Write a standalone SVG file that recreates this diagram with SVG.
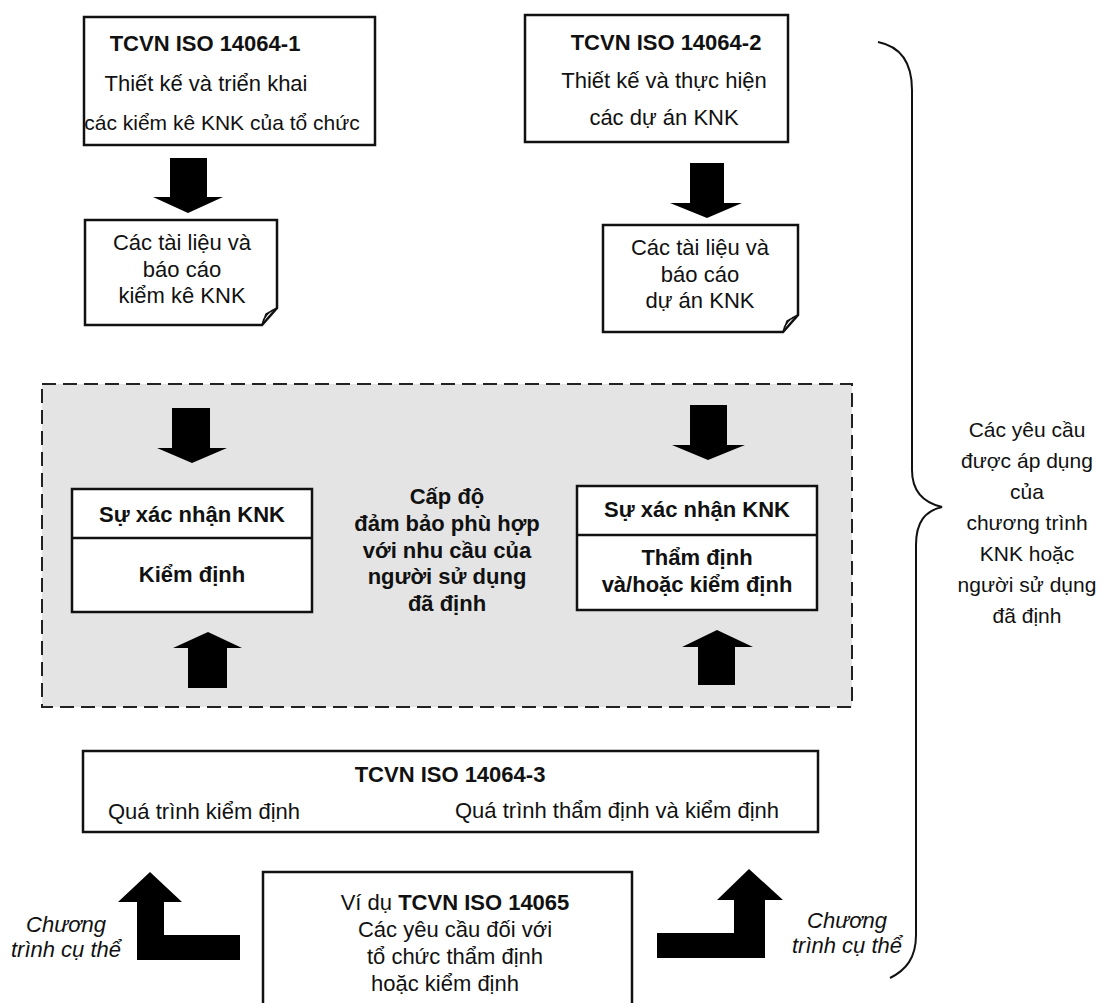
<svg xmlns="http://www.w3.org/2000/svg" width="1108" height="1003" viewBox="0 0 1108 1003">
<style>
text{font-family:"Liberation Sans",Arial,sans-serif;font-size:22px;fill:#111}
.b{font-weight:bold}
.c{text-anchor:middle}
.i{font-style:italic}
.box{fill:#fff;stroke:#111;stroke-width:2.5}
.arr{fill:#000}
.r{font-size:21px}
.s{font-size:21px}
</style>
<rect width="1108" height="1003" fill="#fff"/>
<g id="assurance-area">
<rect x="42" y="384" width="810" height="323" fill="#e4e4e4" stroke="#222" stroke-width="2" stroke-dasharray="14 7"/>
<text class="b c" x="447"><tspan x="447" y="504">Cấp độ</tspan><tspan x="447" y="531">đảm bảo phù hợp</tspan><tspan x="447" y="558">với nhu cầu của</tspan><tspan x="447" y="584">người sử dụng</tspan><tspan x="447" y="611">đã định</tspan></text>
</g>
<g id="iso1">
<rect class="box" x="84" y="17" width="291" height="128"/>
<text class="b c" x="205" y="51">TCVN ISO 14064-1</text>
<text class="c" x="206" y="91">Thiết kế và triển khai</text>
<text class="c s" x="222" y="130">các kiểm kê KNK của tổ chức</text>
</g>
<g id="iso2">
<rect class="box" x="525" y="15" width="263" height="127"/>
<text class="b c" x="666" y="50">TCVN ISO 14064-2</text>
<text class="c" x="664" y="88">Thiết kế và thực hiện</text>
<text class="c" x="664" y="125">các dự án KNK</text>
</g>
<g id="doc1">
<path class="box" d="M85,220 L277,220 L277,308 L262,325 L85,325 Z"/>
<path d="M262,325 Q264,313 277,308 M262,325 L266,314 L277,308" fill="none" stroke="#111" stroke-width="1.5"/>
<text class="c" x="182"><tspan x="182" y="250">Các tài liệu và</tspan><tspan x="182" y="277">báo cáo</tspan><tspan x="182" y="303">kiểm kê KNK</tspan></text>
</g>
<g id="doc2">
<path class="box" d="M603,225 L798,225 L798,315 L783,332 L603,332 Z"/>
<path d="M783,332 Q785,320 798,315 M783,332 L787,321 L798,315" fill="none" stroke="#111" stroke-width="1.5"/>
<text class="c" x="700"><tspan x="700" y="255">Các tài liệu và</tspan><tspan x="700" y="282">báo cáo</tspan><tspan x="700" y="308">dự án KNK</tspan></text>
</g>
<g id="verif-left">
<rect class="box" x="72" y="489" width="240" height="123"/>
<line x1="72" y1="538" x2="312" y2="538" stroke="#111" stroke-width="2.5"/>
<text class="b c" x="192" y="522">Sự xác nhận KNK</text>
<text class="b c" x="192" y="582">Kiểm định</text>
</g>
<g id="verif-right">
<rect class="box" x="577" y="486" width="240" height="124"/>
<line x1="577" y1="535" x2="817" y2="535" stroke="#111" stroke-width="2.5"/>
<text class="b c" x="697" y="517">Sự xác nhận KNK</text>
<text class="b c" x="697" y="565">Thẩm định</text>
<text class="b c" x="697" y="592">và/hoặc kiểm định</text>
</g>
<g id="iso3">
<rect class="box" x="83" y="751" width="735" height="81"/>
<text class="b c" x="450" y="782">TCVN ISO 14064-3</text>
<text x="108" y="819">Quá trình kiểm định</text>
<text x="455" y="818">Quá trình thẩm định và kiểm định</text>
</g>
<g id="iso14065">
<path d="M263,1010 L263,872 L632,872 L632,1010" fill="#fff" stroke="#111" stroke-width="2.5"/>
<text class="c" x="455" y="910">Ví dụ <tspan class="b">TCVN ISO 14065</tspan></text>
<text class="c" x="455" y="937">Các yêu cầu đối với</text>
<text class="c" x="455" y="964">tổ chức thẩm định</text>
<text class="c" x="445" y="991">hoặc kiểm định</text>
</g>
<g id="labels">
<text class="i c" x="66" y="932">Chương</text>
<text class="i c" x="66" y="957">trình cụ thể</text>
<text class="i c" x="847" y="928">Chương</text>
<text class="i c" x="847" y="953">trình cụ thể</text>
<text class="c r" x="1027"><tspan x="1027" y="437">Các yêu cầu</tspan><tspan x="1027" y="468">được áp dụng</tspan><tspan x="1027" y="499">của</tspan><tspan x="1027" y="530">chương trình</tspan><tspan x="1027" y="561">KNK hoặc</tspan><tspan x="1027" y="592">người sử dụng</tspan><tspan x="1027" y="623">đã định</tspan></text>
</g>
<g id="connectors">
<polygon class="arr" points="170,158 207,158 207,197 223,197 188,213 153,197 170,197"/>
<polygon class="arr" points="690,163 724,163 724,203 742,203 707,218 670,203 690,203"/>
<polygon class="arr" points="172,408 210,408 210,448 227,448 192,463 157,448 172,448"/>
<polygon class="arr" points="208,632 242,648 227,648 227,688 188,688 188,648 173,648"/>
<polygon class="arr" points="690,405 727,405 727,445 745,445 708,460 672,445 690,445"/>
<polygon class="arr" points="717,630 753,647 735,647 735,685 698,685 698,647 682,647"/>
<polygon class="arr" points="150,872 182,902 164,902 164,935 240,935 240,960 137,960 137,902 118,902"/>
<polygon class="arr" points="749,869 783,900 765,900 765,958 657,958 657,933 734,933 734,900 717,900"/>
<path d="M878,42 C898,46 912,60 912,90 L912,470 C912,492 925,503 942,507 C925,511 916,522 916,545 L916,935 C916,958 906,970 890,978" fill="none" stroke="#111" stroke-width="2"/>
</g>
</svg>
